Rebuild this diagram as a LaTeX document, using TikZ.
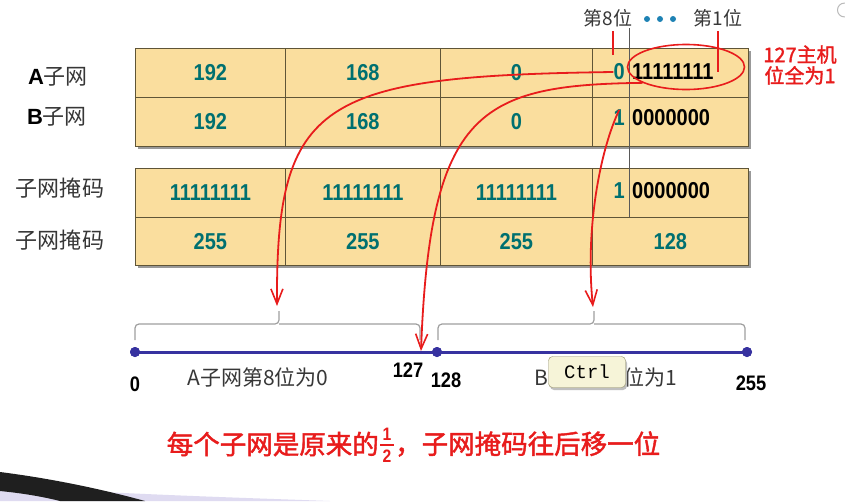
\documentclass[tikz,border=0pt]{standalone}
\usepackage{fontspec}
\setmainfont{Liberation Sans}
\newfontfamily\cjk{Noto Sans CJK SC}
\newfontfamily\cjkb[FakeBold=1.6]{Noto Sans CJK SC}
\newfontfamily\numf[FakeStretch=0.87]{Liberation Sans}
\newfontfamily\monof{Liberation Mono}
\usetikzlibrary{shapes.geometric,arrows.meta}
\definecolor{cellfill}{RGB}{250,222,158}
\definecolor{cellline}{RGB}{95,85,55}
\definecolor{tealc}{RGB}{0,112,112}
\definecolor{redc}{RGB}{232,28,28}
\definecolor{navy}{RGB}{55,50,160}
\definecolor{dotc}{RGB}{30,130,180}
\definecolor{greytxt}{RGB}{55,55,55}
\definecolor{tipfill}{RGB}{246,244,216}
\begin{document}
\begin{tikzpicture}[x=1pt,y=-1pt,
  cell/.style={draw=cellline,fill=cellfill,line width=0.8pt,inner sep=0pt,anchor=north west,
    text=tealc,font=\numf\bfseries\fontsize{23}{23}\selectfont},
  bit/.style={inner sep=0pt,text=tealc,font=\numf\bfseries\fontsize{23}{23}\selectfont},
  host/.style={inner sep=0pt,text=black,font=\numf\bfseries\fontsize{23}{23}\selectfont},
  rowlbl/.style={inner sep=0pt,text=greytxt,font=\cjk\fontsize{22}{22}\selectfont},
  toplbl/.style={inner sep=0pt,text=greytxt,font=\cjk\fontsize{19}{19}\selectfont},
  numlbl/.style={inner sep=0pt,text=black,font=\numf\bfseries\fontsize{21}{21}\selectfont},
  linelbl/.style={inner sep=0pt,text=greytxt,font=\cjk\fontsize{21}{21}\selectfont},
  sumtxt/.style={inner sep=0pt,text=redc,font=\cjkb\fontsize{26.5}{27}\selectfont},
  fracdigit/.style={inner sep=0pt,text=redc,font=\numf\bfseries\fontsize{18}{18}\selectfont},
  redline/.style={draw=redc,line width=1.6pt},
  redarrow/.style={draw=redc,line width=1.8pt,-{Straight Barb[length=15pt,width=12pt,line width=1.6pt]}},
  brace/.style={draw=gray!75,line width=1.2pt,rounded corners=4pt},
  numdot/.style={circle,fill=navy,inner sep=0pt,minimum size=10pt},
  shadowbox/.style={fill=black!40}
]
\useasboundingbox (0,0) rectangle (845,501);
\fill[white] (0,0) rectangle (845,501);

% slide decoration bottom-left and top-right
\fill[cyan!8!blue!12] (0,486) .. controls (120,494) and (220,497) .. (330,501) -- (0,501) -- cycle;
\fill[black!88] (0,472) .. controls (55,479) and (105,490) .. (145,501) -- (60,501) .. controls (40,496) and (20,493) .. (0,491) -- cycle;
\draw[gray!55,line width=1pt] (845,3) .. controls (835,3) and (835,17) .. (845,17);

% shadows of the tables
\fill[shadowbox] (138,51) rectangle (751,149);
\fill[shadowbox] (138,171) rectangle (751,268);

% table 1: A and B subnets
\node[cell,minimum width=150,minimum height=49] (a1) at (135,48) {192};
\node[cell,minimum width=155,minimum height=49] (a2) at (285,48) {168};
\node[cell,minimum width=152,minimum height=49] (a3) at (440,48) {0};
\node[cell,minimum width=156,minimum height=49] (a4) at (592,48) {};
\node[cell,minimum width=150,minimum height=49] (b1) at (135,97) {192};
\node[cell,minimum width=155,minimum height=49] (b2) at (285,97) {168};
\node[cell,minimum width=152,minimum height=49] (b3) at (440,97) {0};
\node[cell,minimum width=156,minimum height=49] (b4) at (592,97) {};

% table 2: masks
\node[cell,minimum width=150,minimum height=49] (m1) at (135,168) {11111111};
\node[cell,minimum width=155,minimum height=49] (m2) at (285,168) {11111111};
\node[cell,minimum width=152,minimum height=49] (m3) at (440,168) {11111111};
\node[cell,minimum width=156,minimum height=49] (m4) at (592,168) {};
\node[cell,minimum width=150,minimum height=48] (n1) at (135,217) {255};
\node[cell,minimum width=155,minimum height=48] (n2) at (285,217) {255};
\node[cell,minimum width=152,minimum height=48] (n3) at (440,217) {255};
\node[cell,minimum width=156,minimum height=48] (n4) at (592,217) {128};

% bit split contents
\node[bit,anchor=east] (a8) at (625,72) {0};
\node[host,anchor=west] (ah) at (632,72) {11111111};
\node[bit,anchor=east] (b8) at (625,118) {1};
\node[host,anchor=west] (bh) at (632,118) {0000000};
\node[bit,anchor=east] (m8) at (625,191) {1};
\node[host,anchor=west] (mh) at (632,191) {0000000};

% bit position labels
\node[toplbl] (l8) at (608,18) {第8位};
\node[toplbl] (l1) at (718,18) {第1位};
\foreach \x in {647,660,673} \fill[dotc] (\x,19) circle (3pt);
\coordinate (gtop) at (629,28);
\coordinate (gbot) at (629,217);
\draw[gray!70!black,line width=0.8pt] (gtop) -- (gbot);
\draw[redline] (l8.south -| a8.center) ++(-6,4) -- ++(0,24);
\draw[redline] ([yshift=-4pt]l1.south) -- (l1.south |- ah.center);
\node[ellipse,draw=redc,line width=1.6pt,minimum width=117,minimum height=45] (ell) at (686,67) {};
\node[inner sep=0pt,text=redc,align=center,font=\cjkb\fontsize{20}{21}\selectfont] (note) at (800,65) {127主机\\位全为1};

% row labels
\node[rowlbl] (lA) at (58,77) {{\fontspec{Liberation Sans}\bfseries\color{black}A}子网};
\node[rowlbl] (lB) at (57,117) {{\fontspec{Liberation Sans}\bfseries\color{black}B}子网};
\node[rowlbl] (lM1) at (60,188) {子网掩码};
\node[rowlbl] (lM2) at (60,240) {子网掩码};

% number line
\node[numdot] (d0) at (135,352) {};
\node[numdot] (d128) at (437,352) {};
\node[numdot] (d255) at (747,352) {};
\draw[navy,line width=3pt] (d0.center) -- (d255.center);
\node[numdot] at (d0) {};
\node[numdot] at (d128) {};
\node[numdot] at (d255) {};

% braces
\draw[brace] (135,340) -- (135,324) -- (279,324) -- (279,311);
\draw[brace] (420,340) -- (420,324) -- (279,324);
\draw[brace] (438,340) -- (438,324) -- (594,324) -- (594,311);
\draw[brace] (745,340) -- (745,324) -- (594,324);
\coordinate (ta) at (277,306);
\coordinate (t127) at (421,351);
\coordinate (tb) at (593,307);

% red arrows
\draw[redarrow] (a8.west) .. controls (320,76) and (276,100) .. (ta);
\draw[redarrow] (ell.200) .. controls (480,85) and (430,110) .. (t127);
\draw[redarrow] (b8.north) .. controls (600,150) and (585,230) .. (tb);

% labels under the number line
\node[numlbl] (z0) at (135,384) {0};
\node[linelbl] (tA) at (258,377) {A子网第8位为0};
\node[numlbl] (z127) at (408,370) {127};
\node[numlbl] (z128) at (446,380) {128};
\node[linelbl] (tB) at (606,377) {B子网第8位为1};
\node[numlbl] (z255) at (751,383) {255};
\fill[black!25,rounded corners=4pt] (550,359) rectangle (627,390);
\node[draw=gray!70!olive,fill=tipfill,rounded corners=4pt,minimum width=77,minimum height=31,inner sep=0pt,
  font=\monof\fontsize{19}{19}\selectfont] (ctrl) at (587,372) {Ctrl};

% summary
\node[sumtxt,anchor=east] (sumL) at (379,444) {每个子网是原来的};
\node[fracdigit] (fnum) at (387,434) {1};
\node[fracdigit] (fden) at (387,456) {2};
\draw[redc,line width=1.6pt] (380,445) -- (394,445);
\node[sumtxt,anchor=west] (sumR) at (395,444) {，子网掩码往后移一位};
\end{tikzpicture}
\end{document}
